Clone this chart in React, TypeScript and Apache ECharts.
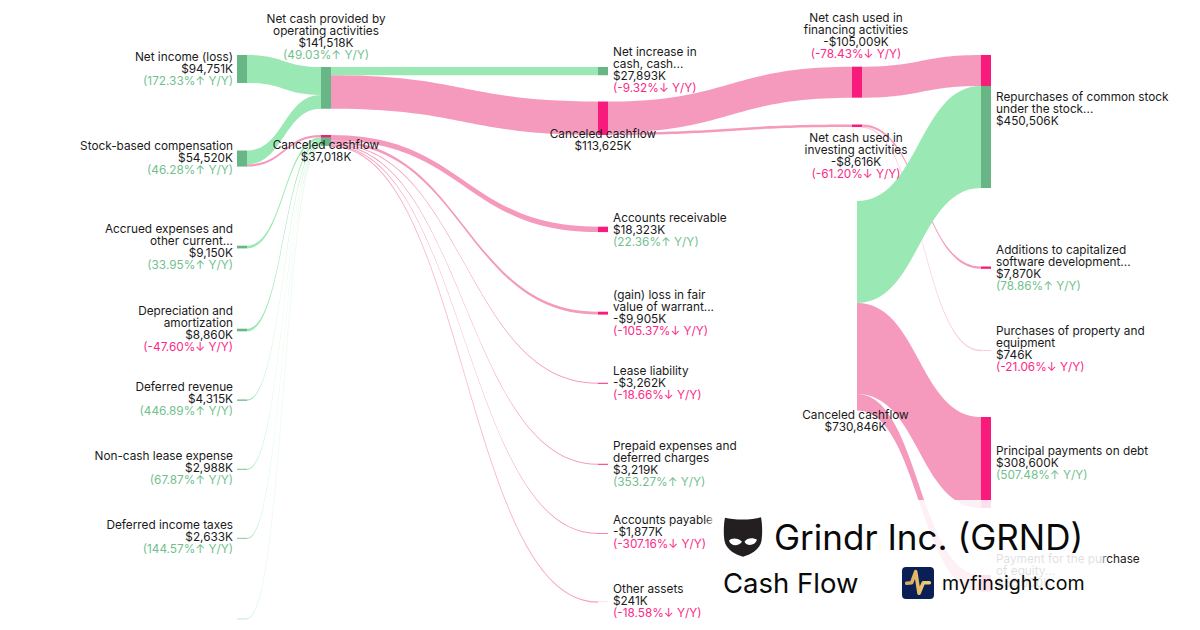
import React, { useEffect, useRef } from "react";
import * as echarts from "echarts";

// ---------- data ----------
const operatingInflows: [string, string, string, string, number][] = [
  ["netIncome", "Net income (loss)", "$94,751K", "(172.33%↑ Y/Y)", 94751],
  ["stockComp", "Stock-based compensation", "$54,520K", "(46.28%↑ Y/Y)", 46767],
];
const smallInflows: [string, string, string, string, number][] = [
  ["accrued", "Accrued expenses and\nother current...", "$9,150K", "(33.95%↑ Y/Y)", 9150],
  ["depreciation", "Depreciation and\namortization", "$8,860K", "(-47.60%↓ Y/Y)", 8860],
  ["deferredRev", "Deferred revenue", "$4,315K", "(446.89%↑ Y/Y)", 4315],
  ["leaseExpense", "Non-cash lease expense", "$2,988K", "(67.87%↑ Y/Y)", 2988],
  ["deferredTax", "Deferred income taxes", "$2,633K", "(144.57%↑ Y/Y)", 2633],
  ["unlabelled", "", "", "", 1319],
];
const stockCompToCanceled = 7753;
const operatingOutflows: [string, string, string, string, number][] = [
  ["netIncrease", "Net increase in\ncash, cash...", "$27,893K", "(-9.32%↓ Y/Y)", 27893],
  ["canceledB", "Canceled cashflow", "$113,625K", "", 113625],
];
const workingCapitalOutflows: [string, string, string, string, number][] = [
  ["receivable", "Accounts receivable", "$18,323K", "(22.36%↑ Y/Y)", 18323],
  ["warrant", "(gain) loss in fair\nvalue of warrant...", "-$9,905K", "(-105.37%↓ Y/Y)", 9905],
  ["leaseLiability", "Lease liability", "-$3,262K", "(-18.66%↓ Y/Y)", 3262],
  ["prepaid", "Prepaid expenses and\ndeferred charges", "$3,219K", "(353.27%↑ Y/Y)", 3219],
  ["payable", "Accounts payable", "-$1,877K", "(-307.16%↓ Y/Y)", 1877],
  ["otherAssets", "Other assets", "$241K", "(-18.58%↓ Y/Y)", 241],
];
const canceledBOutflows: [string, string, string, string, number][] = [
  ["financing", "Net cash used in\nfinancing activities", "-$105,009K", "(-78.43%↓ Y/Y)", 105009],
  ["investing", "Net cash used in\ninvesting activities", "-$8,616K", "(-61.20%↓ Y/Y)", 8616],
];
const investingOutflows: [string, string, string, string, number][] = [
  ["additions", "Additions to capitalized\nsoftware development...", "$7,870K", "(78.86%↑ Y/Y)", 7870],
  ["purchases", "Purchases of property and\nequipment", "$746K", "(-21.06%↓ Y/Y)", 746],
];
const repurchasesLabel = ["Repurchases of common stock\nunder the stock...", "$450,506K", ""];
const repurchasesFromFinancing = 105009;
const repurchasesFromCanceled = 345497;
const principalPayments = 308600;
const principalLabel = ["Principal payments on debt", "$308,600K", "(507.48%↑ Y/Y)"];
const equityPurchase = 56000;
const equityLabel = ["Payment for the purchase\nof equity...", "$56,000K", ""];
const netCashLabel = ["Net cash provided by\noperating activities", "$141,518K", "(49.03%↑ Y/Y)"];
const canceledALabel = ["Canceled cashflow", "$37,018K", ""];
const canceledCLabel = ["Canceled cashflow", "$730,846K", ""];
const canceledAExtra = 191;

// ---------- styles and placement ----------
const GREEN_LINK = "#9ae8b3";
const GREEN_NODE = "#68b585";
const PINK_LINK = "#f59abd";
const PINK_NODE = "#f81b7c";
const GREEN_TEXT = "#72bf8e";
const PINK_TEXT = "#fb2a86";
const FONT = "Inter";
const LABEL_SIZE = 11.8;
const PX_PER_UNIT = 0.000295;

const columnX = [237, 321, 598, 852, 981];
const nodeTop: Record<string, number> = {
  netIncome: 55, stockComp: 150.5, accrued: 245.7, depreciation: 328.7, deferredRev: 399.5,
  leaseExpense: 468.8, deferredTax: 537.9, unlabelled: 618,
  netCash: 67, canceledA: 135, canceledACap: 135,
  netIncrease: 67, canceledB: 101.5, receivable: 226.7, warrant: 311.7, leaseLiability: 382.8,
  prepaid: 463.8, payable: 533, otherAssets: 601.6,
  financing: 66.7, investing: 124.5, canceledC: 201,
  repurchasesPink: 55, repurchasesGreen: 86, additions: 266.5, purchases: 350, principal: 417, equity: 575,
};
const labelShiftY: Record<string, number> = {
  netIncome: 0, stockComp: -1, accrued: 0, depreciation: -1, deferredRev: -1, leaseExpense: -1, deferredTax: -1,
  netIncrease: -1.5, receivable: 0.3, warrant: 0, leaseLiability: 0, prepaid: 0, payable: -1, otherAssets: -1,
  additions: 0, purchases: -1.5,
};

function richLabel(lines: string[]) {
  const [name, amount, change] = lines;
  const out: string[] = [];
  if (name) name.split("\n").forEach((l) => out.push(`{n|${l}}`));
  if (amount) out.push(`{n|${amount}}`);
  if (change) out.push(`{${change.includes("↓") ? "p" : "g"}|${change}}`);
  return out.join("\n");
}

const rich = {
  n: { fontFamily: FONT, fontSize: LABEL_SIZE, lineHeight: 12, color: "#1a1a1a" },
  g: { fontFamily: FONT, fontSize: LABEL_SIZE, lineHeight: 12, color: GREEN_TEXT },
  p: { fontFamily: FONT, fontSize: LABEL_SIZE, lineHeight: 12, color: PINK_TEXT },
};

function labelOf(lines: string[], placement: any) {
  return { show: true, formatter: richLabel(lines), rich, ...placement };
}

const LEFT = { position: "left", distance: 4, align: "right" };
const RIGHT = { position: "right", distance: 5, align: "left" };
const shifted = (base: any, id: string) => ({ ...base, offset: [0, labelShiftY[id] || 0] });

function buildNodes(H: number) {
  const node = (id: string, col: number, color: string, label: any, extra: any = {}) => ({
    name: id,
    depth: col,
    localX: (columnX[col] + (extra.dx || 0)) / 1200,
    localY: nodeTop[id] / H,
    itemStyle: { color, opacity: extra.fade ?? 1 },
    label,
    ...(extra.value ? { value: extra.value } : {}),
  });
  const nodes: any[] = [];
  operatingInflows.concat(smallInflows).forEach(([id, name, amt, chg]) => {
    const faint = id === "unlabelled";
    nodes.push(
      node(id, 0, faint ? "#d9f5e3" : GREEN_NODE, faint ? { show: false } : labelOf([name, amt, chg], shifted(LEFT, id)),
        faint ? { value: 6000 } : {})
    );
  });
  nodes.push(node("netCash", 1, GREEN_NODE, labelOf(netCashLabel, { position: "top", distance: 6, align: "center" })));
  nodes.push(node("canceledA", 1, GREEN_NODE, labelOf(canceledALabel, { position: "inside", offset: [0, 10.5], align: "center" })));
  nodes.push(node("canceledACap", 1, PINK_NODE, { show: false }, { value: stockCompToCanceled }));

  operatingOutflows.forEach(([id, name, amt, chg]) => {
    if (id === "canceledB") {
      nodes.push(node(id, 2, PINK_NODE, labelOf([name, amt, chg], { position: "inside", offset: [0, 22], align: "center" })));
    } else {
      nodes.push(node(id, 2, GREEN_NODE, labelOf([name, amt, chg], shifted(RIGHT, id))));
    }
  });
  workingCapitalOutflows.forEach(([id, name, amt, chg]) => {
    nodes.push(node(id, 2, PINK_NODE, labelOf([name, amt, chg], shifted(RIGHT, id))));
  });

  nodes.push(node("financing", 3, PINK_NODE, labelOf(
    [canceledBOutflows[0][1], canceledBOutflows[0][2], canceledBOutflows[0][3]],
    { position: "top", distance: 7, align: "center", offset: [-1, 0] })));
  nodes.push(node("investing", 3, PINK_NODE, labelOf(
    [canceledBOutflows[1][1], canceledBOutflows[1][2], canceledBOutflows[1][3]],
    { position: "bottom", distance: 5, align: "center", offset: [-1, 0] })));
  nodes.push(node("canceledC", 3, "rgba(255,255,255,0)", labelOf(canceledCLabel,
    { position: "inside", offset: [3.5, 115], align: "center" }), { dx: -5 }));

  nodes.push(node("repurchasesPink", 4, PINK_NODE, { show: false }));
  nodes.push(node("repurchasesGreen", 4, GREEN_NODE, labelOf(repurchasesLabel, { ...RIGHT, offset: [0, -28] })));
  investingOutflows.forEach(([id, name, amt, chg]) => {
    nodes.push(node(id, 4, PINK_NODE, labelOf([name, amt, chg], shifted(RIGHT, id))));
  });
  nodes.push(node("principal", 4, PINK_NODE, labelOf(principalLabel, { ...RIGHT, offset: [0, 0] })));
  nodes.push(node("equity", 4, PINK_NODE, labelOf(equityLabel, { ...RIGHT, offset: [0, -12.5] })));
  return nodes;
}

function buildLinks() {
  const link = (source: string, target: string, value: number, color: string, hair = 0) => ({
    source, target, value,
    lineStyle: { color, opacity: 1, curveness: 0.5, ...(hair ? { borderColor: color, borderWidth: hair } : {}) },
  });
  const links: any[] = [];
  operatingInflows.forEach(([id, , , , v]) => links.push(link(id, "netCash", v, GREEN_LINK)));
  links.push(link("stockComp", "canceledA", stockCompToCanceled, PINK_LINK));
  smallInflows.forEach(([id, , , , v]) =>
    links.push(link(id, "canceledA", v, id === "unlabelled" ? "#d5f5e0" : GREEN_LINK, id === "unlabelled" ? 0.2 : 0))
  );
  operatingOutflows.forEach(([id, , , , v]) =>
    links.push(link("netCash", id, v, id === "canceledB" ? PINK_LINK : GREEN_LINK))
  );
  workingCapitalOutflows.forEach(([id, , , , v]) =>
    links.push(link("canceledA", id, v + (id === "otherAssets" ? canceledAExtra : 0), PINK_LINK, id === "otherAssets" ? 0.2 : 0))
  );
  canceledBOutflows.forEach(([id, , , , v]) => links.push(link("canceledB", id, v, PINK_LINK)));
  investingOutflows.forEach(([id, , , , v]) =>
    links.push(link("investing", id, v, id === "purchases" ? "#f9c3d8" : PINK_LINK, id === "purchases" ? 0.2 : 0))
  );
  links.push(link("financing", "repurchasesPink", repurchasesFromFinancing, PINK_LINK));
  links.push(link("canceledC", "repurchasesGreen", repurchasesFromCanceled, GREEN_LINK));
  links.push(link("canceledC", "principal", principalPayments, PINK_LINK));
  links.push(link("canceledC", "equity", equityPurchase, PINK_LINK));
  return links;
}

const MASK_PATH = "M1 1 C10 3.5 28 3.5 37 0.5 C38.5 8 38.5 18 37.5 24 C36 33 26 38 19 40 C12 38 2 33 0.5 24 C-0.5 18 -0.5 8 1 1 Z";
const EYES_PATH = "M5 24 C7 21 14 20.5 18 25 C15 29.5 7 30 5 24 Z M33 23 C29 20.5 23 21 20.5 25 C23 30 31 29 33 23 Z";
const PULSE_POINTS = [[906.7, 583.3], [911.7, 582.7], [915.7, 571.7], [919, 593.3], [923.3, 582.7], [929.3, 582.7]];

export default function App() {
  const ref = useRef<HTMLDivElement>(null);
  useEffect(() => {
    document.body.style.margin = "0";
    echarts.graphic.registerShape("grindrMask", echarts.graphic.extendPath(MASK_PATH, {}));
    echarts.graphic.registerShape("grindrEyes", echarts.graphic.extendPath(EYES_PATH, {}));
    const chart = echarts.init(ref.current!, undefined, { renderer: "svg" });

    const canceledCTotal = repurchasesFromCanceled + principalPayments + equityPurchase;
    const col3Sum = repurchasesFromFinancing + canceledBOutflows[1][4] + canceledCTotal;
    const H = col3Sum * PX_PER_UNIT;

    chart.setOption({
      animation: false,
      backgroundColor: "#ffffff",
      tooltip: { show: false },
      series: [
        {
          type: "sankey",
          left: 0,
          top: 0,
          width: 1200,
          height: H,
          nodeWidth: 10,
          nodeGap: 0,
          nodeAlign: "left",
          layoutIterations: 0,
          draggable: false,
          silent: true,
          emphasis: { disabled: true },
          itemStyle: { borderWidth: 0 },
          lineStyle: { opacity: 1, curveness: 0.5 },
          data: buildNodes(H),
          links: buildLinks(),
        },
      ],
      graphic: {
        elements: [
          {
            type: "rect",
            z: 100,
            shape: { x: 706, y: 500, width: 402, height: 130 },
            style: {
              fill: new echarts.graphic.LinearGradient(0, 0, 1, 0, [
                { offset: 0, color: "rgba(255,255,255,0)" },
                { offset: 0.02, color: "rgba(255,255,255,0.86)" },
                { offset: 0.98, color: "rgba(255,255,255,0.86)" },
                { offset: 1, color: "rgba(255,255,255,0)" },
              ]),
            },
          },
          { type: "grindrMask", z: 101, x: 724, y: 516.7, style: { fill: "#231f20" } },
          { type: "grindrEyes", z: 102, x: 724, y: 516.7, style: { fill: "#ffffff" } },
          {
            type: "text", z: 101, x: 774, y: 537,
            style: { text: "Grindr Inc. (GRND)", fontFamily: FONT, fontSize: 35, fill: "#0a0a0a", verticalAlign: "middle", textAlign: "left" },
          },
          {
            type: "text", z: 101, x: 723, y: 583,
            style: { text: "Cash Flow", fontFamily: FONT, fontSize: 27.5, fill: "#0a0a0a", verticalAlign: "middle", textAlign: "left" },
          },
          {
            type: "rect", z: 101,
            shape: { x: 902, y: 567, width: 32, height: 32, r: 4 },
            style: { fill: "#0a1f56" },
          },
          {
            type: "polyline", z: 102,
            shape: { points: PULSE_POINTS },
            style: {
              fill: "none",
              stroke: new echarts.graphic.LinearGradient(0, 0, 1, 0, [
                { offset: 0, color: "#d9a860" },
                { offset: 1, color: "#f5cf6e" },
              ]),
              lineWidth: 3.6, lineCap: "round", lineJoin: "round",
            },
          },
          {
            type: "text", z: 101, x: 942, y: 583,
            style: { text: "myfinsight.com", fontFamily: FONT, fontSize: 19.6, fill: "#0a0a0a", verticalAlign: "middle", textAlign: "left" },
          },
        ],
      },
    });
    return () => chart.dispose();
  }, []);
  return <div ref={ref} style={{ width: 1200, height: 630 }} />;
}
